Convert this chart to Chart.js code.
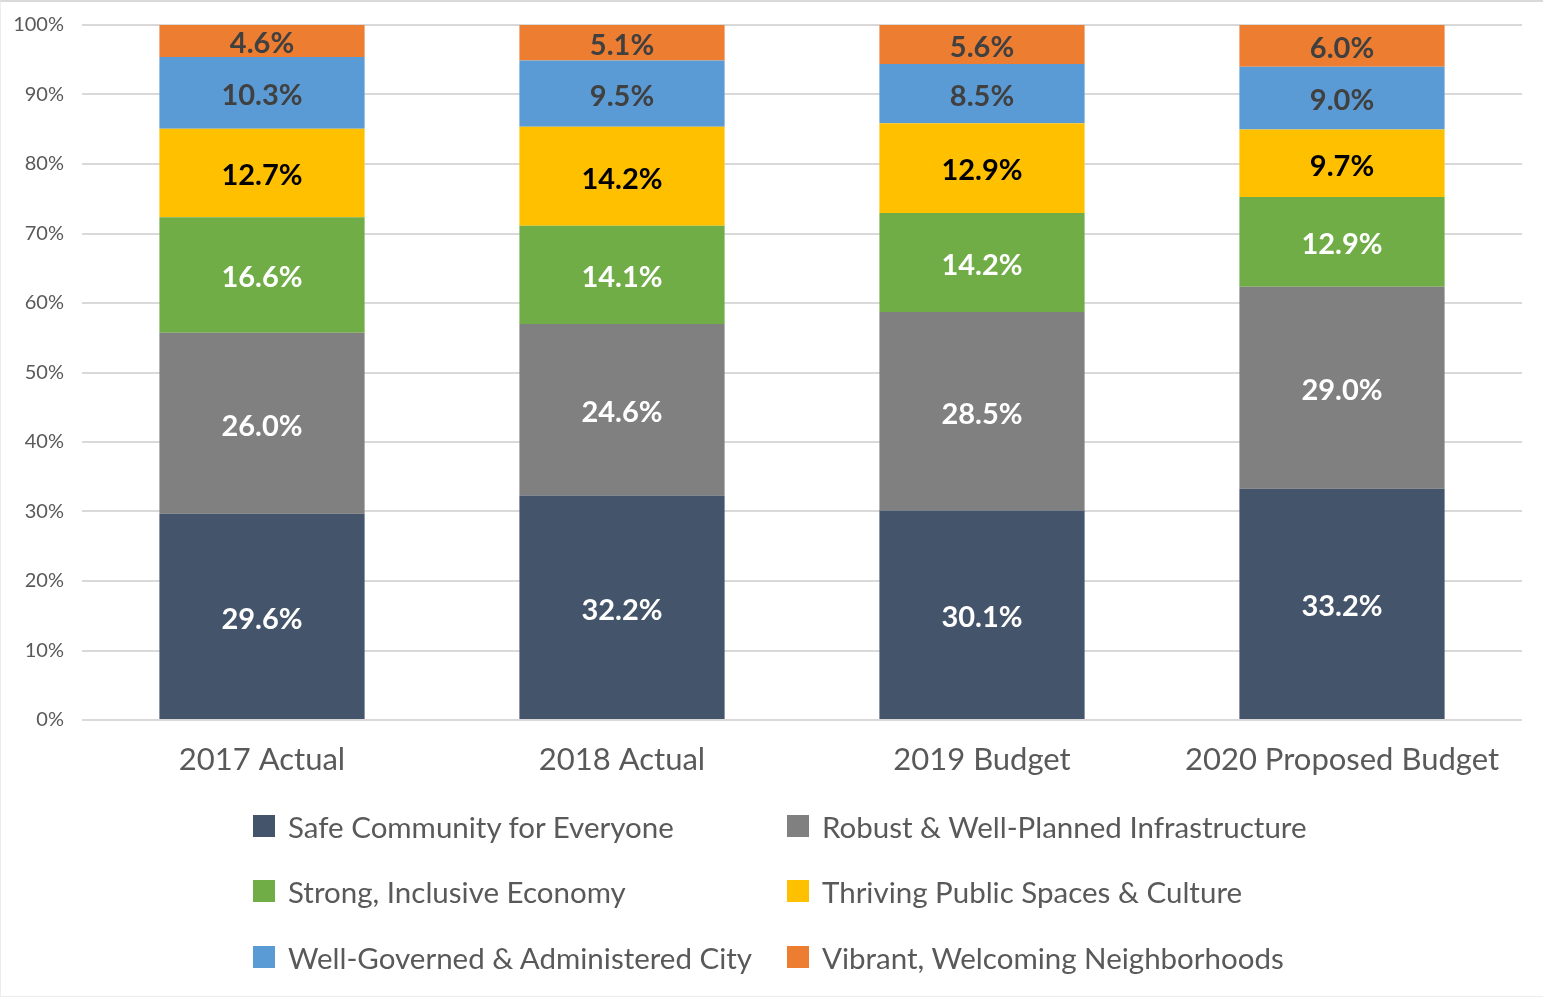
<!DOCTYPE html>
<html>
<head>
<meta charset="utf-8">
<script src="https://cdn.jsdelivr.net/npm/chart.js@4.4.1/dist/chart.umd.min.js"></script>
<style>
  html, body { margin: 0; padding: 0; background: #fff; }
  #wrap { position: relative; width: 1543px; height: 997px; box-sizing: border-box;
          border-top: 2px solid #d9d9d9; border-left: 1px solid #ececec; border-bottom: 1px solid #ececec; }
  #c { position: absolute; left: 0; top: 0; }
  .leg { position: absolute; font-family: Lato, sans-serif; font-size: 29.5px; color: #595959;
         line-height: 34px; white-space: nowrap; }
  .leg span.box { position: absolute; width: 22px; height: 22px; left: 0; top: 5px; }
  .leg span.txt { position: absolute; left: 35px; top: 0; }
</style>
</head>
<body>
<div id="wrap">
  <canvas id="c" width="1542" height="995"></canvas>
  <div id="legend"></div>
</div>
<script>
const categories = ["2017 Actual", "2018 Actual", "2019 Budget", "2020 Proposed Budget"];
const seriesNames = [
  "Safe Community for Everyone",
  "Robust & Well-Planned Infrastructure",
  "Strong, Inclusive Economy",
  "Thriving Public Spaces & Culture",
  "Well-Governed & Administered City",
  "Vibrant, Welcoming Neighborhoods"
];
const safeCommunity   = [29.6, 32.2, 30.1, 33.2];
const infrastructure  = [26.0, 24.6, 28.5, 29.0];
const economy         = [16.6, 14.1, 14.2, 12.9];
const publicSpaces    = [12.7, 14.2, 12.9, 9.7];
const governedCity    = [10.3, 9.5, 8.5, 9.0];
const neighborhoods   = [4.6, 5.1, 5.6, 6.0];
const yTicks = [0, 10, 20, 30, 40, 50, 60, 70, 80, 90, 100];

const seriesValues = [safeCommunity, infrastructure, economy, publicSpaces, governedCity, neighborhoods];
const colors = ["#44546A", "#808080", "#70AD47", "#FFC000", "#5B9BD5", "#ED7D31"];
const labelColors = ["#ffffff", "#ffffff", "#ffffff", "#000000", "#404040", "#404040"];

// 100% stacked: each bar is scaled to the total of its column
const totals = categories.map((_, i) => seriesValues.reduce((s, arr) => s + arr[i], 0));

const datasets = seriesValues.map((vals, k) => ({
  label: seriesNames[k],
  data: vals.map((v, i) => v / totals[i] * 100),
  raw: vals,
  backgroundColor: colors[k],
  borderWidth: 0,
  categoryPercentage: 1.0,
  barPercentage: 0.57
}));

const labelPlugin = {
  id: 'segLabels',
  afterDatasetsDraw(chart) {
    const ctx = chart.ctx;
    ctx.save();
    ctx.font = 'bold 29px Lato, sans-serif';
    ctx.textAlign = 'center';
    ctx.textBaseline = 'middle';
    chart.data.datasets.forEach((ds, k) => {
      const meta = chart.getDatasetMeta(k);
      meta.data.forEach((el, i) => {
        const y = (el.y + el.base) / 2;
        ctx.fillStyle = labelColors[k];
        ctx.fillText(ds.raw[i].toFixed(1) + '%', el.x, y + 3);
      });
    });
    ctx.restore();
  }
};

new Chart(document.getElementById('c'), {
  type: 'bar',
  data: { labels: categories, datasets },
  options: {
    responsive: false,
    animation: false,
    events: [],
    layout: { padding: { top: 23, right: 21, left: 0, bottom: 217 } },
    plugins: { legend: { display: false }, tooltip: { enabled: false } },
    scales: {
      x: {
        stacked: true,
        grid: { display: false, drawTicks: false },
        border: { display: false },
        ticks: { color: '#595959', font: { family: 'Lato', size: 31 }, padding: 21 },
        afterFit(s) { s.height = 60; }
      },
      y: {
        stacked: true,
        min: 0, max: 100,
        afterBuildTicks(s) { s.ticks = yTicks.map(v => ({ value: v })); },
        grid: { color: '#d9d9d9', lineWidth: 2, drawTicks: true, tickLength: 18, tickColor: 'rgba(0,0,0,0)' },
        border: { display: false },
        ticks: { color: '#595959', font: { family: 'Lato', size: 20 }, padding: 0,
                 callback: v => v + '%' },
        afterFit(s) { s.width = 81; }
      }
    }
  },
  plugins: [labelPlugin]
});

// Legend in two columns, three rows
const legend = document.getElementById('legend');
const colX = [252, 786];
const rowY = [808, 873, 939];
seriesNames.forEach((name, k) => {
  const d = document.createElement('div');
  d.className = 'leg';
  d.style.left = colX[k % 2] + 'px';
  d.style.top = rowY[Math.floor(k / 2)] + 'px';
  d.innerHTML = '<span class="box" style="background:' + colors[k] + '"></span><span class="txt"></span>';
  d.querySelector('.txt').textContent = name;
  legend.appendChild(d);
});
</script>
</body>
</html>
